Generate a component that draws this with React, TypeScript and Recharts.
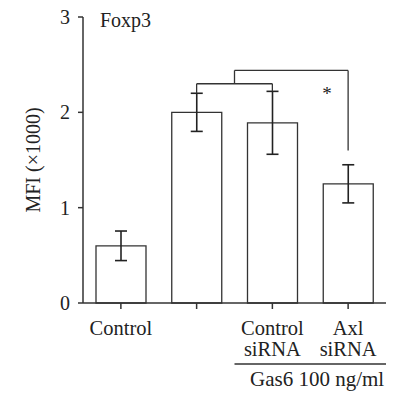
import React from 'react';
import {
  BarChart,
  Bar,
  XAxis,
  YAxis,
  ErrorBar,
  ReferenceLine,
  ReferenceDot,
} from 'recharts';

// Foxp3 MFI per group (x1000), mean and SEM
const groupIndex = [0, 1, 2, 3];
const groupLabels = [['Control'], [''], ['Control', 'siRNA'], ['Axl', 'siRNA']];
const foxp3Mfi = [0.6, 2.0, 1.89, 1.25];
const foxp3Sem = [0.155, 0.2, 0.33, 0.2];
const yTicks = [0, 1, 2, 3];

// significance brackets, in data units
const pairBracketY = 2.3;
const outerBracketY = 2.44;
const axlBracketFoot = 1.6;
const gas6LineY = -0.64;

const data = groupIndex.map((i) => ({
  idx: i,
  mfi: foxp3Mfi[i],
  sem: foxp3Sem[i],
}));

const FONT = "'Liberation Serif', 'Times New Roman', serif";
const INK = '#333';

const GroupTick = ({ x, y, payload }: any) => {
  const lines = groupLabels[payload.value] ?? [];
  return (
    <text x={x} y={y} textAnchor="middle" fontFamily={FONT} fontSize={20.5} fill="#222">
      {lines.map((line, k) => (
        <tspan key={k} x={x} dy={k === 0 ? 24 : 21}>
          {line}
        </tspan>
      ))}
    </text>
  );
};

const bracket = { stroke: INK, strokeWidth: 1.3 };

export default function App() {
  return (
    <div style={{ position: 'absolute', left: 0, top: 0, background: '#fff' }}>
      <BarChart
        width={393}
        height={396}
        data={data}
        margin={{ top: 17, right: 7, left: 43, bottom: 63 }}
      >
        <XAxis
          dataKey="idx"
          type="number"
          domain={[-0.5, 3.5]}
          ticks={groupIndex}
          tick={<GroupTick />}
          tickSize={6}
          tickMargin={2}
          height={30}
          axisLine={{ stroke: INK, strokeWidth: 1.5 }}
          tickLine={{ stroke: INK, strokeWidth: 1.5 }}
        />
        <YAxis
          domain={[0, 3]}
          ticks={yTicks}
          width={40}
          tickSize={5}
          tickMargin={8}
          axisLine={{ stroke: INK, strokeWidth: 1.5 }}
          tickLine={{ stroke: INK, strokeWidth: 1.5 }}
          tick={{ fontFamily: FONT, fontSize: 20, fill: '#222' }}
          label={{
            value: 'MFI (×1000)',
            angle: -90,
            position: 'center',
            dx: -30,
            fontFamily: FONT,
            fontSize: 20,
            fill: '#222',
          }}
        />
        <Bar
          dataKey="mfi"
          barSize={50}
          fill="#fff"
          stroke={INK}
          strokeWidth={1.3}
          isAnimationActive={false}
        >
          <ErrorBar dataKey="sem" width={6} stroke="#222" strokeWidth={1.6} />
        </Bar>

        {/* Gas6 vs Gas6 + control siRNA */}
        <ReferenceLine segment={[{ x: 1, y: foxp3Mfi[1] + foxp3Sem[1] }, { x: 1, y: pairBracketY }]} {...bracket} />
        <ReferenceLine segment={[{ x: 1, y: pairBracketY }, { x: 2, y: pairBracketY }]} {...bracket} />
        <ReferenceLine segment={[{ x: 2, y: foxp3Mfi[2] + foxp3Sem[2] }, { x: 2, y: pairBracketY }]} {...bracket} />
        {/* pair vs Axl siRNA */}
        <ReferenceLine segment={[{ x: 1.5, y: pairBracketY }, { x: 1.5, y: outerBracketY }]} {...bracket} />
        <ReferenceLine segment={[{ x: 1.5, y: outerBracketY }, { x: 3, y: outerBracketY }]} {...bracket} />
        <ReferenceLine segment={[{ x: 3, y: outerBracketY }, { x: 3, y: axlBracketFoot }]} {...bracket} />
        <ReferenceDot
          x={2.72}
          y={2.2}
          r={0}
          stroke="none"
          label={{ value: '*', position: 'center', fontFamily: FONT, fontSize: 19, fill: '#222' }}
        />

        {/* Gas6 treatment group underline */}
        <ReferenceLine
          segment={[{ x: 1.5, y: gas6LineY }, { x: 3.5, y: gas6LineY }]}
          ifOverflow="visible"
          stroke={INK}
          strokeWidth={1.5}
        />
        <ReferenceDot
          x={2.59}
          y={-0.796}
          r={0}
          stroke="none"
          ifOverflow="visible"
          label={{ value: 'Gas6 100 ng/ml', position: 'center', fontFamily: FONT, fontSize: 21, fill: '#222' }}
        />

        <ReferenceDot
          x={-0.276}
          y={2.97}
          r={0}
          stroke="none"
          label={{ value: 'Foxp3', position: 'right', offset: 0, fontFamily: FONT, fontSize: 20, fill: '#222' }}
        />
      </BarChart>
    </div>
  );
}
